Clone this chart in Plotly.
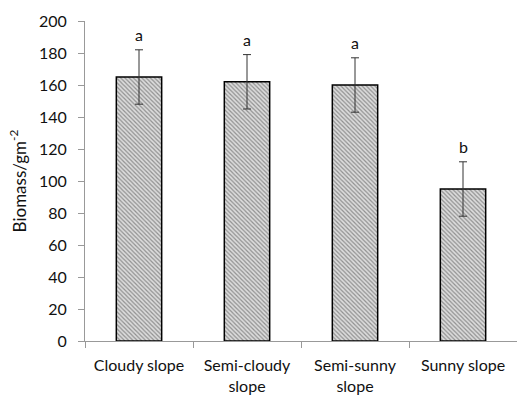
import plotly.graph_objects as go

categories = ["Cloudy slope", "Semi-cloudy<br>slope", "Semi-sunny<br>slope", "Sunny slope"]
biomass = [165, 162, 160, 95]
errors = [17, 17, 17, 17]
letters = ["a", "a", "a", "b"]

fig = go.Figure()
fig.add_trace(go.Bar(
    x=categories, y=biomass, width=0.42,
    marker=dict(color="white",
                line=dict(color="black", width=1.5),
                pattern=dict(shape="\\", fgcolor="#444444", bgcolor="#dcdcdc",
                             size=3, solidity=0.4)),
    error_y=dict(type="data", array=errors, visible=True,
                 color="#333333", thickness=1, width=4),
    showlegend=False,
))
for c, v, e, t in zip(categories, biomass, errors, letters):
    fig.add_annotation(x=c, y=v + e, text=t, showarrow=False, yshift=15,
                       font=dict(size=16, color="#111111", family="Lato"))

fig.update_layout(
    width=517, height=396,
    margin=dict(l=85, r=0, t=21, b=55),
    plot_bgcolor="white", paper_bgcolor="white",
    font=dict(family="Lato", size=16, color="#111111"),
    bargap=0.58,
)
fig.update_yaxes(range=[0, 200], dtick=20, showgrid=False, showline=True,
                 linecolor="#999999", linewidth=1, ticks="outside", ticklen=6,
                 tickcolor="#999999", zeroline=False, ticklabelstandoff=8,
                 title=dict(text="Biomass/gm<sup>-2</sup>", standoff=8,
                            font=dict(size=17)))
fig.update_xaxes(showgrid=False, showline=True, linecolor="#999999", linewidth=1,
                 ticks="outside", ticklen=6, tickcolor="#999999",
                 tickson="boundaries", ticklabelstandoff=10)
fig.write_html("out.html")
